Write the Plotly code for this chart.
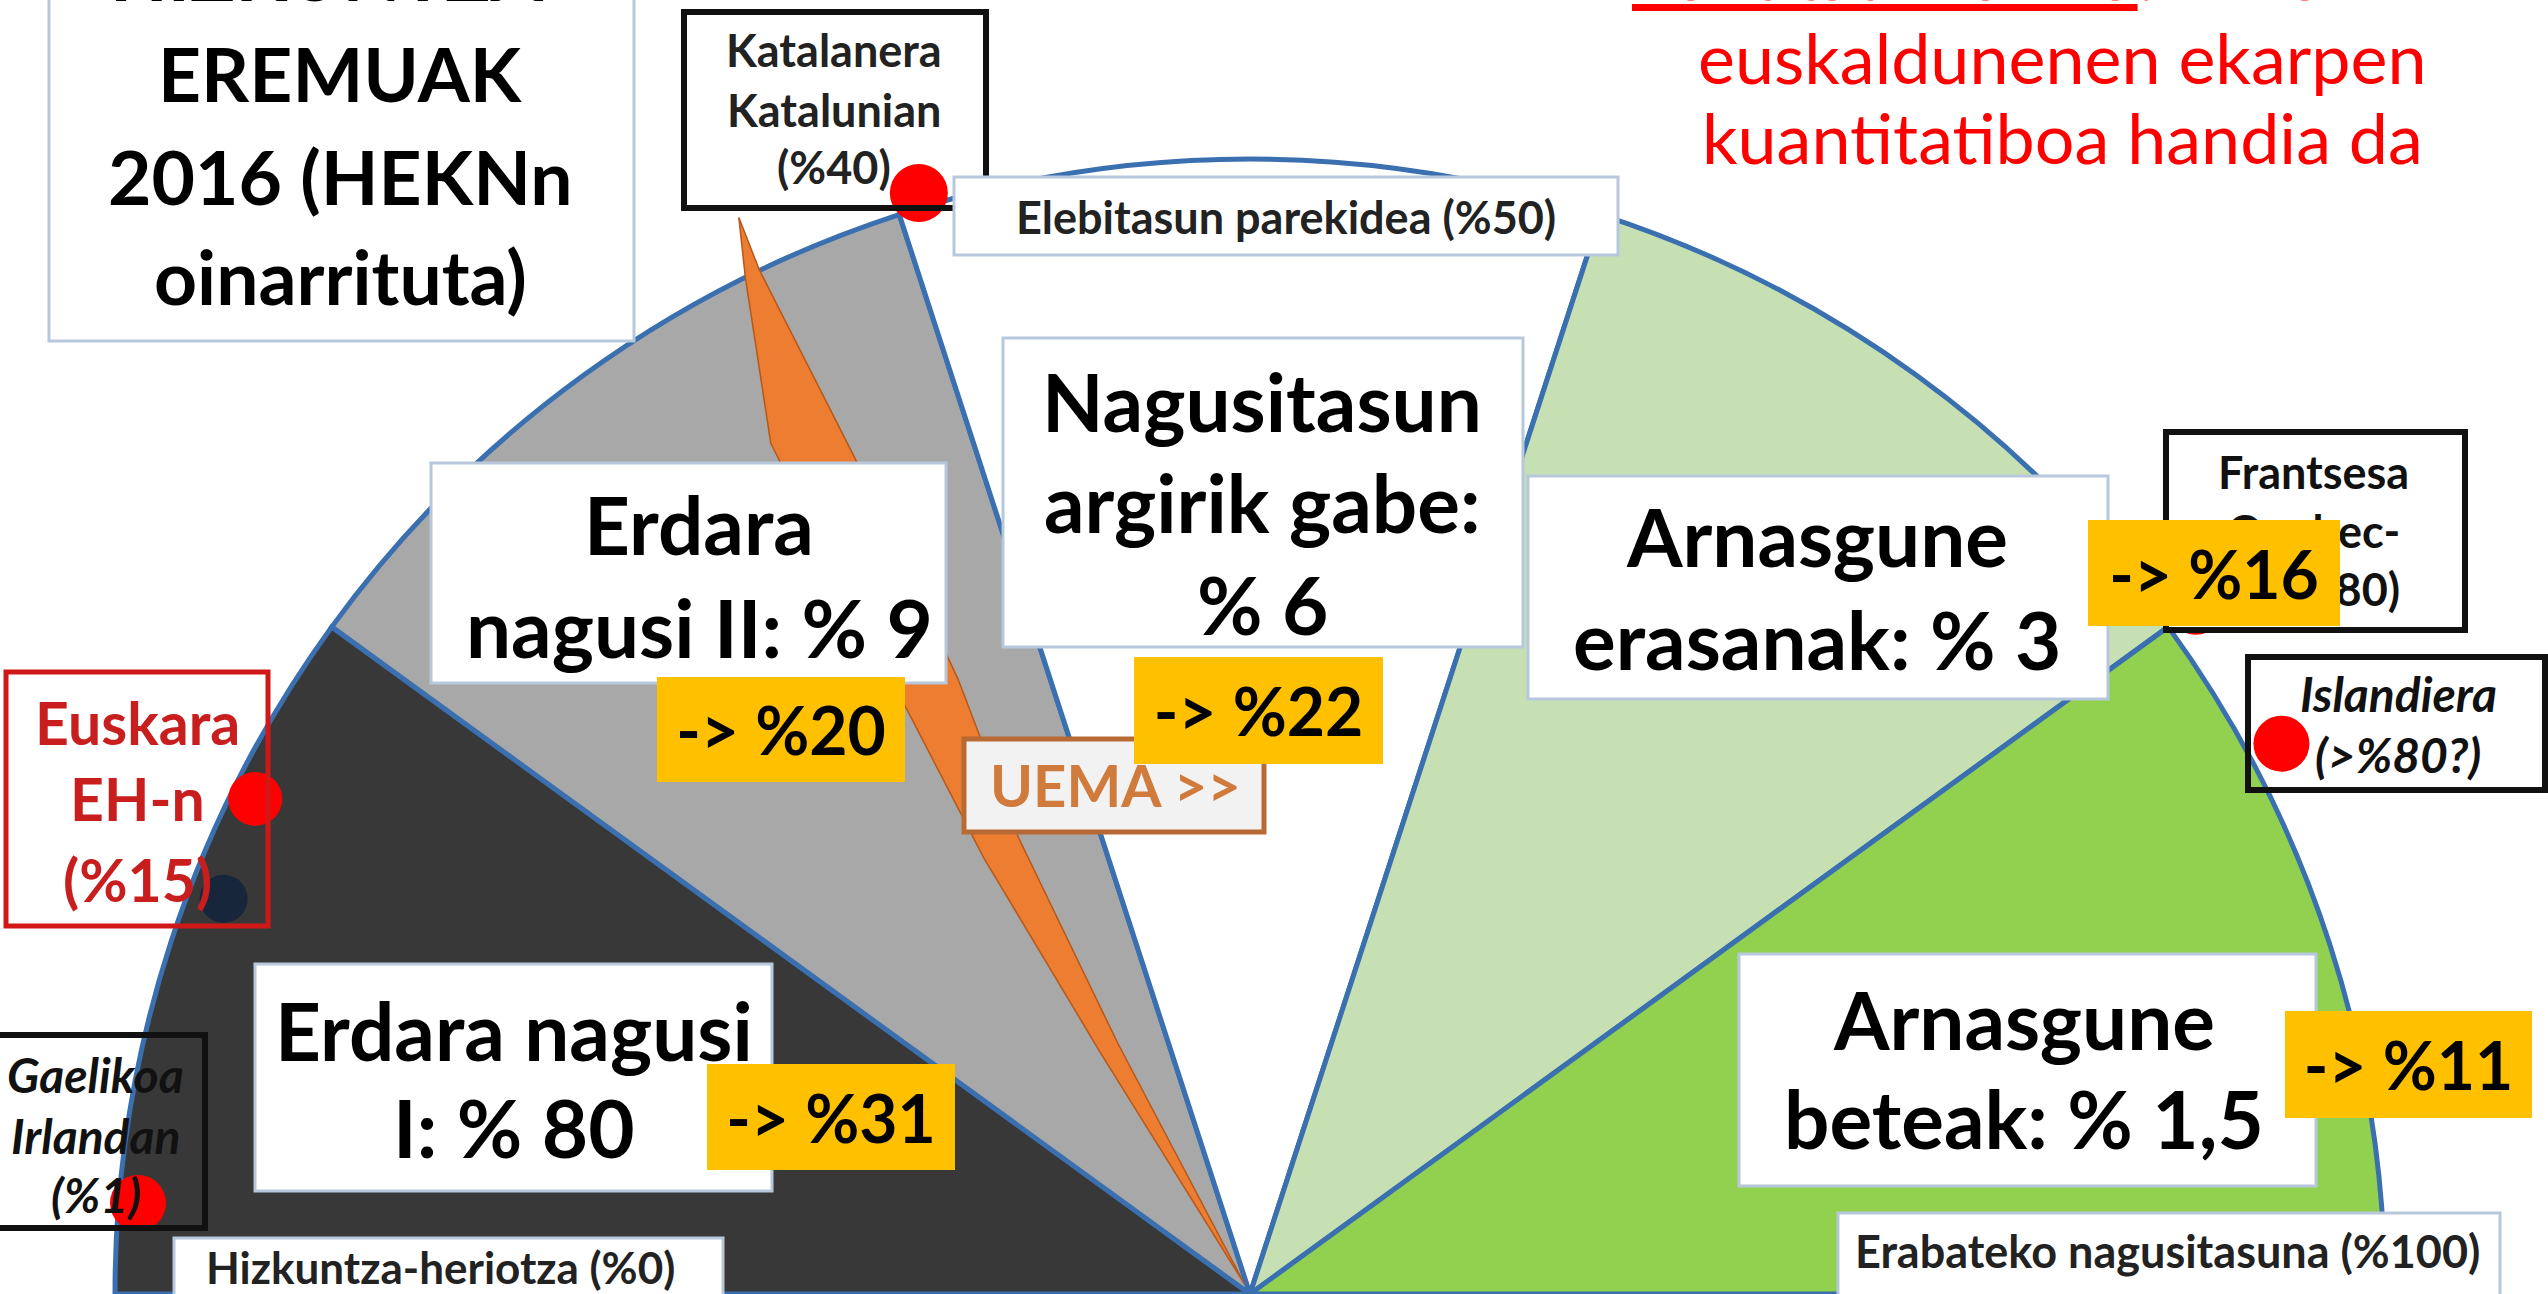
import plotly.graph_objects as go

W, H = 2548, 1294
CX, R_PX = 1250, 1135          # centre (px) and radius (px) of the half disc
RMAX = 1.08                    # radial axis range (room for points just outside the arc)

# ---------------- data ----------------
zones = ["Erdara nagusi I", "Erdara nagusi II", "Nagusitasun argirik gabe",
         "Arnasgune erasanak", "Arnasgune beteak"]
zone_share_2016 = ["% 80", "% 9", "% 6", "% 3", "% 1,5"]
zone_future = ["-> %31", "-> %20", "-> %22", "-> %16", "-> %11"]
zone_scale_start = [0, 20, 40, 60, 80]      # position on the 0-100 % scale
zone_scale_end = [20, 40, 60, 80, 100]
zone_depth = [1, 1, 1, 1, 1]
zone_colors = ["#383838", "#a8a8a8", "#ffffff", "#c6e0b4", "#92d050"]

languages = ["Katalanera Katalunian", "Euskara EH-n", "Gaelikoa Irlandan",
             "Islandiera", "Frantsesa Quebec-en", "Euskara (beste neurria)"]
language_pct = [40.7, 14.7, 2.6, 84.4, 80.0, 11.7]
language_r = [1.013, 0.979, 0.983, 1.03, 1.03, 0.969]
language_colors = ["#ff0000", "#ff0000", "#ff0000", "#ff0000", "#ff0000", "#17263a"]
language_sizes = [58, 54, 56, 56, 56, 48]

scale_marks = ["Hizkuntza-heriotza (%0)", "Elebitasun parekidea (%50)",
               "Erabateko nagusitasuna (%100)"]

# UEMA band (angle in degrees, radius relative to the half disc)
uema_band_theta = [119.0, 121.8, 121.4, 120.4, 119.4, 116.4, 115.4,
                   115.6, 115.3, 115.4, 116.9, 117.8, 119.0]
uema_band_r = [0.01, 0.25, 0.45, 0.60, 0.86, 1.0, 1.05,
               1.0, 0.815, 0.60, 0.45, 0.25, 0.01]

# ---------------- styles ----------------
EDGE = "#3a6fb0"
LIGHT = "#b8c8dc"
FONT = "Lato"


def pct_to_theta(p):
    return 180 - 1.8 * p


def px(x, y):
    return x / W, 1 - y / H


fig = go.Figure()

theta_mid = [pct_to_theta((a + b) / 2) for a, b in zip(zone_scale_start, zone_scale_end)]
widths = [1.8 * (b - a) for a, b in zip(zone_scale_start, zone_scale_end)]
fig.add_trace(go.Barpolar(
    r=zone_depth, theta=theta_mid, width=widths, text=zones, hoverinfo="text",
    marker=dict(color=zone_colors, line=dict(color=EDGE, width=5), opacity=1),
    showlegend=False))

fig.add_trace(go.Scatterpolar(
    r=uema_band_r, theta=uema_band_theta, mode="lines", fill="toself",
    fillcolor="#ed7d31", line=dict(color="#b5581a", width=1.5),
    hoverinfo="skip", showlegend=False))

fig.add_trace(go.Scatterpolar(
    r=language_r, theta=[pct_to_theta(p) for p in language_pct], mode="markers",
    text=languages, hoverinfo="text", cliponaxis=False, opacity=1,
    marker=dict(size=language_sizes, color=language_colors, opacity=1, line=dict(width=0)),
    showlegend=False))

Rp = R_PX * RMAX
fig.update_layout(
    width=W, height=H, margin=dict(l=0, r=0, t=0, b=0, pad=0),
    paper_bgcolor="white", plot_bgcolor="white", showlegend=False,
    polar=dict(
        domain=dict(x=[(CX - Rp) / W, (CX + Rp) / W], y=[0, Rp / H]),
        sector=[0, 180], hole=0, bgcolor="rgba(0,0,0,0)",
        radialaxis=dict(range=[0, RMAX], visible=False, showgrid=False,
                        showline=False, showticklabels=False, ticks=""),
        angularaxis=dict(visible=False, rotation=0, direction="counterclockwise",
                         showgrid=False, showline=False, showticklabels=False, ticks=""),
    ),
)

# ---------------- boxes (decoration) ----------------
boxes = [
    # x0, y0, x1, y1, line colour, line width, fill
    (49, -60, 634, 341, LIGHT, 3, "white"),
    (684, 12, 986, 208, "#111111", 6, None),
    (954, 177, 1618, 255, LIGHT, 3, "white"),
    (1003, 338, 1523, 647, LIGHT, 3, "white"),
    (431, 463, 946, 683, LIGHT, 3, "white"),
    (1528, 476, 2108, 699, LIGHT, 3, "white"),
    (255, 964, 772, 1191, LIGHT, 3, "white"),
    (1739, 954, 2316, 1186, LIGHT, 3, "white"),
    (964, 739, 1264, 832, "#b86a35", 5, "#f2f2f2"),
    (6, 672, 268, 926, "#d01818", 5, None),
    (-5, 1035, 205, 1228, "#111111", 6, None),
    (174, 1238, 723, 1310, LIGHT, 3, "white"),
    (1838, 1213, 2500, 1310, LIGHT, 3, "white"),
    (2166, 432, 2465, 630, "#111111", 6, "white"),
    (2248, 657, 2545, 790, "#111111", 6, None),
]
for x0, y0, x1, y1, lc, lw, fc in boxes:
    a, b = px(x0, y0)
    c, d = px(x1, y1)
    fig.add_shape(type="rect", xref="paper", yref="paper", x0=a, y0=d, x1=c, y1=b,
                  line=dict(color=lc, width=lw),
                  fillcolor=fc if fc else "rgba(0,0,0,0)", layer="above")

annotations = []


def txt(x, y, s, size, color="#000000", weight="bold", style="normal"):
    xp, yp = px(x, y)
    annotations.append(dict(
        x=xp, y=yp, xref="paper", yref="paper", text=s, showarrow=False,
        xanchor="center", yanchor="middle",
        font=dict(family=FONT, size=size, color=color, weight=weight, style=style)))


# title box
for yy, s in zip([-28, 73, 176, 276], ["HIZKUNTZA-", "EREMUAK", "2016 (HEKNn", "oinarrituta)"]):
    txt(341, yy, s, 75)

# red comment
for yy, s in zip([-27, 57, 137], ["<u>Kantitate handia</u>: Zonaldeko",
                                 "euskaldunenen ekarpen", "kuantitatiboa handia da"]):
    txt(2062, yy, s, 70, "#ff0000", "normal")

# Katalanera
for yy, s in zip([50, 110, 167], ["Katalanera", "Katalunian", "(%40)"]):
    txt(834, yy, s, 45, "#222222")

# scale marks
txt(1286, 217, scale_marks[1], 45, "#222222")
txt(440, 1267, scale_marks[0], 44, "#222222")
txt(2167, 1251, scale_marks[2], 45, "#222222")

# zone labels
BIG = 80
txt(1262, 401, "Nagusitasun", BIG)
txt(1262, 502, "argirik gabe:", BIG)
txt(1262, 604, zone_share_2016[2], BIG)
txt(699, 524, "Erdara", BIG)
txt(699, 627, "nagusi II: " + zone_share_2016[1], BIG)
txt(1817, 536, "Arnasgune", BIG)
txt(1817, 639, "erasanak: " + zone_share_2016[3], BIG)
txt(514, 1030, "Erdara nagusi", BIG)
txt(514, 1127, "I: " + zone_share_2016[0], BIG)
txt(2024, 1019, "Arnasgune", BIG)
txt(2024, 1118, "beteak: " + zone_share_2016[4], BIG)

# UEMA
txt(1115, 784, "UEMA &gt;&gt;", 58, "#d07a3c")

# Euskara
for yy, s in zip([722, 799, 879], ["Euskara", "EH-n", "(%15)"]):
    txt(137, yy, s, 59, "#c81e1e")

# Gaelikoa
for yy, s in zip([1074, 1135, 1194], ["Gaelikoa", "Irlandan", "(%1)"]):
    txt(96, yy, s, 48, "#111111", "bold", "italic")

# Frantsesa
for yy, s in zip([472, 531, 589], ["Frantsesa", "Quebec-", "en (%80)"]):
    txt(2313, yy, s, 45, "#111111")

# Islandiera
for yy, s in zip([694, 754], ["Islandiera", "(&gt;%80?)"]):
    txt(2398, yy, s, 48, "#111111", "bold", "italic")

# future shares (orange boxes)
future_boxes = [  # zone index, x0, y0, x1, y1
    (1, 657, 677, 905, 782),
    (2, 1134, 657, 1383, 764),
    (3, 2088, 520, 2340, 626),
    (0, 707, 1064, 955, 1170),
    (4, 2285, 1011, 2532, 1118),
]
for i, x0, y0, x1, y1 in future_boxes:
    xp, yp = px((x0 + x1) / 2, (y0 + y1) / 2)
    annotations.append(dict(
        x=xp, y=yp, xref="paper", yref="paper",
        text=zone_future[i].replace(">", "&gt;"), showarrow=False,
        xanchor="center", yanchor="middle", width=x1 - x0, height=y1 - y0,
        align="center", valign="middle", bgcolor="#ffc000", borderwidth=0, borderpad=0,
        font=dict(family=FONT, size=66, color="#000000", weight="bold")))

fig.update_layout(annotations=annotations)

fig.write_html("out.html", config={"displayModeBar": False},
               post_script="document.body.style.margin='0';")
